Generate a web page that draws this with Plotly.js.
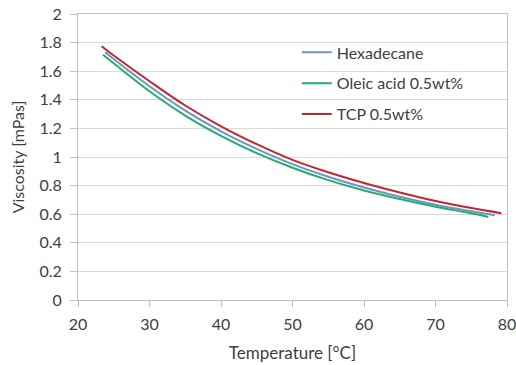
<!DOCTYPE html>
<html>
<head>
<meta charset="utf-8">
<script src="https://cdn.plot.ly/plotly-3.0.1.min.js"></script>
<style>html,body{margin:0;padding:0;background:#fff;}#chart{width:516px;height:365px;}</style>
</head>
<body>
<div id="chart"></div>
<script>
// Series names
const seriesNames = ["Hexadecane", "Oleic acid 0.5wt%", "TCP 0.5wt%"];

// Hexadecane
const hexT = [23.8, 25, 30, 35, 40, 45, 50, 55, 60, 65, 70, 75, 78.3];
const hexV = [1.735, 1.685, 1.495, 1.325, 1.18, 1.057, 0.95, 0.862, 0.787, 0.722, 0.666, 0.62, 0.592];

// Oleic acid 0.5wt%
const oleT = [23.5, 25, 30, 35, 40, 45, 50, 55, 60, 65, 70, 75, 77.4];
const oleV = [1.715, 1.655, 1.46, 1.29, 1.148, 1.027, 0.925, 0.838, 0.766, 0.706, 0.652, 0.606, 0.58];

// TCP 0.5wt%
const tcpT = [23.3, 25, 30, 35, 40, 45, 50, 55, 60, 65, 70, 75, 79.2];
const tcpV = [1.775, 1.71, 1.53, 1.36, 1.215, 1.09, 0.98, 0.893, 0.818, 0.752, 0.693, 0.643, 0.607];

const colors = ["#6f93c6", "#22ad6c", "#c0272d"];
const font = "Lato, 'Open Sans', sans-serif";
const txt = "#404040";

const traces = [
  {x: hexT, y: hexV, name: seriesNames[0], color: colors[0]},
  {x: oleT, y: oleV, name: seriesNames[1], color: colors[1]},
  {x: tcpT, y: tcpV, name: seriesNames[2], color: colors[2]}
].map((s, i) => ({
  type: "scatter", mode: "lines", x: s.x, y: s.y, name: s.name,
  legendgroup: "g" + i,
  line: {color: s.color, width: 2, shape: "spline", smoothing: 1}
}));

const layout = {
  width: 516, height: 365,
  margin: {l: 78, r: 9, t: 14, b: 65},
  paper_bgcolor: "#fff", plot_bgcolor: "#fff",
  font: {family: font, size: 16, color: txt},
  showlegend: true,
  legend: {
    x: 0.51, y: 0.925, xanchor: "left", yanchor: "top",
    bgcolor: "rgba(0,0,0,0)", borderwidth: 0,
    font: {family: font, size: 16, color: txt},
    traceorder: "grouped", tracegroupgap: 7, itemwidth: 30
  },
  shapes: [{
    type: "rect", xref: "paper", yref: "paper",
    x0: 0.478, x1: 0.991, y0: 0.524, y1: 0.972,
    fillcolor: "#fff", line: {width: 0}, layer: "between"
  }],
  xaxis: {
    range: [20, 80], dtick: 10, tick0: 20,
    showgrid: false, zeroline: false,
    showline: true, linecolor: "#bfbfbf", linewidth: 1, mirror: true,
    ticks: "outside", ticklen: 6, tickcolor: "#bfbfbf",
    ticklabelstandoff: 4, ticklabeloverflow: "allow",
    tickfont: {family: font, size: 16, color: txt},
    title: {text: "Temperature [°C]", font: {family: font, size: 17, color: txt}, standoff: 14},
    automargin: false
  },
  yaxis: {
    range: [0, 2], dtick: 0.2, tick0: 0,
    showgrid: true, gridcolor: "#d9d9d9", gridwidth: 1, zeroline: false,
    showline: true, linecolor: "#bfbfbf", linewidth: 1, mirror: true,
    ticks: "outside", ticklen: 7, tickcolor: "#bfbfbf",
    ticklabelstandoff: 5, ticklabeloverflow: "allow",
    tickfont: {family: font, size: 16, color: txt},
    title: {text: "Viscosity [mPas]", font: {family: font, size: 16, color: txt}, standoff: 10},
    automargin: false
  }
};

Plotly.newPlot("chart", traces, layout, {displayModeBar: false, staticPlot: true});
</script>
</body>
</html>
